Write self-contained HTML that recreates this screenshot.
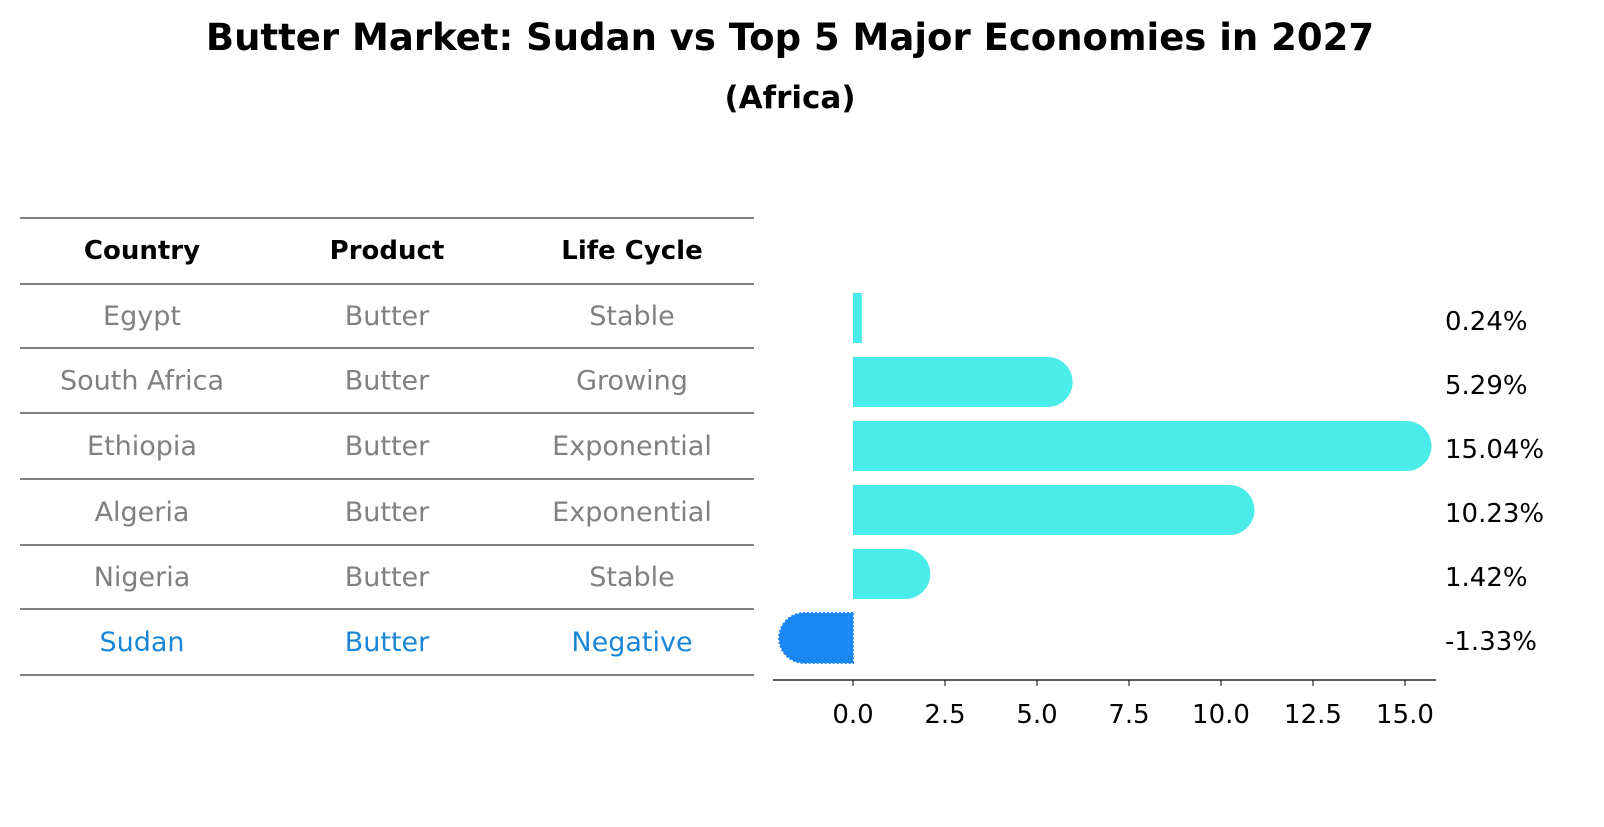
<!DOCTYPE html>
<html><head><meta charset="utf-8"><style>
body{margin:0;width:1604px;height:823px;background:#fff;overflow:hidden;font-family:"DejaVu Sans","Liberation Sans",sans-serif;}
</style></head><body>
<svg width="1604" height="823">
<text x="790" y="50" text-anchor="middle" font-size="37" font-weight="bold">Butter Market: Sudan vs Top 5 Major Economies in 2027</text>
<text x="790" y="108" text-anchor="middle" font-size="31" font-weight="bold">(Africa)</text>
<g id="table"></g>
<g id="bars"></g>
</svg>
<script>
const countries=["Egypt","South Africa","Ethiopia","Algeria","Nigeria","Sudan"];
const products=["Butter","Butter","Butter","Butter","Butter","Butter"];
const lifecycle=["Stable","Growing","Exponential","Exponential","Stable","Negative"];
const values=[0.24,5.29,15.04,10.23,1.42,-1.33];
const ticks=[0,2.5,5,7.5,10,12.5,15];
const NS="http://www.w3.org/2000/svg";
function mk(tag,attrs,parent){const e=document.createElementNS(NS,tag);for(const k in attrs)e.setAttribute(k,attrs[k]);parent.appendChild(e);return e;}
const tbl=document.getElementById('table');
const lineYs=[218,284,348,413,479,545,609,675];
lineYs.forEach((y,i)=>{const l=mk('line',{x1:20,x2:754,y1:y,y2:y,stroke:'#000','stroke-width':1},tbl);

});
const colX=[142,387,632];
["Country","Product","Life Cycle"].forEach((h,i)=>{const t=mk('text',{x:colX[i],y:259,'text-anchor':'middle','font-size':26,'font-weight':'bold'},tbl);t.textContent=h;

});
countries.forEach((c,r)=>{const y=(lineYs[r+1]+lineYs[r+2])/2+9;const col=c==="Sudan"?"#1a87d6":"#808080";
[c,products[r],lifecycle[r]].forEach((v,i)=>{const t=mk('text',{x:colX[i],y:y,'text-anchor':'middle','font-size':27,fill:col},tbl);t.textContent=v;

});});
const g=document.getElementById('bars');
const x0=853,pxPerUnit=36.8;
const X=v=>x0+v*pxPerUnit;
const bandTop=293,band=64,bh=50,R=25;
mk('line',{x1:773,x2:1436,y1:680,y2:680,stroke:'#000','stroke-width':1.2},g);
ticks.forEach(t=>{const l=mk('line',{x1:X(t),x2:X(t),y1:680,y2:686,stroke:'#000'},g);


const tx=mk('text',{x:X(t),y:723,'text-anchor':'middle','font-size':26},g);tx.textContent=t.toFixed(1);

});
values.forEach((v,i)=>{const y=bandTop+i*band;const neg=v<0;const color=neg?'#1a87f5':'#4aece9';
const xe=X(v);let d;
if(Math.abs(xe-x0)<R){d=`M${Math.min(x0,xe)},${y}h${Math.abs(xe-x0)}v${bh}h${-Math.abs(xe-x0)}z`;}
else if(!neg){d=`M${x0},${y}H${xe}A${R},${R} 0 0 1 ${xe},${y+bh}H${x0}Z`;}
else{d=`M${x0},${y}H${xe}A${R},${R} 0 0 0 ${xe},${y+bh}H${x0}Z`;}
const p=mk('path',{d:d,fill:color},g);
if(neg){p.setAttribute('stroke','#1a87f5');p.setAttribute('stroke-dasharray','2,2');p.setAttribute('stroke-width','2');}


const t=mk('text',{x:1445,y:y+bh/2+12,'font-size':26},g);t.textContent=v.toFixed(2)+'%';

});
</script>
</body></html>
